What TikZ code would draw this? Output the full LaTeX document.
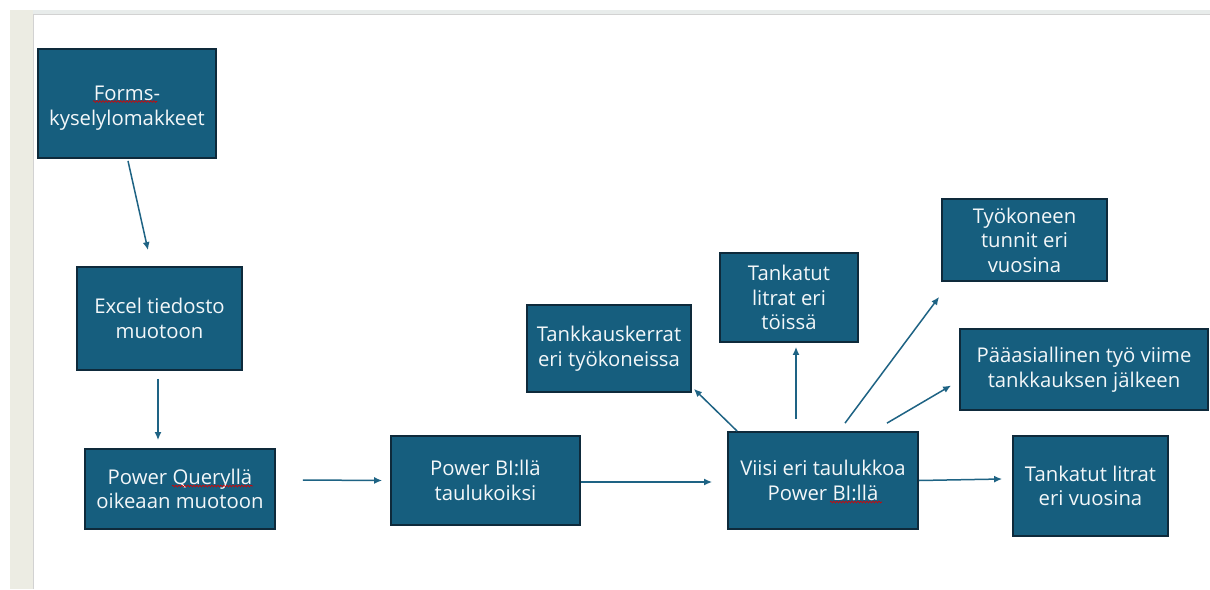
\documentclass[tikz,border=0pt]{standalone}
\usepackage{fontspec}
\setmainfont{Open Sans}
\usetikzlibrary{arrows.meta,decorations.pathmorphing}

\definecolor{boxblue}{HTML}{165E7E}
\definecolor{boxline}{HTML}{0E2A3B}
\definecolor{arrowblue}{HTML}{1E6384}
\definecolor{sidebar}{HTML}{ECECE3}
\definecolor{topbar}{HTML}{E8ECEB}
\definecolor{frameline}{HTML}{D2D2D2}

\begin{document}
\begin{tikzpicture}[
  x=1pt, y=-1pt,
  box/.style={draw=boxline, line width=1.8pt, fill=boxblue, text=white!95!boxblue,
    align=center, inner sep=0pt, font=\fontsize{20.3}{24.5}\selectfont},
  arr/.style={draw=arrowblue, line width=1.5pt, -{Latex[length=8pt,width=7pt]}},
  spell/.style={draw=red!85!black, line width=0.6pt, decorate,
    decoration={snake, amplitude=0.9pt, segment length=3pt}}
]

% page frame
\useasboundingbox (0,0) rectangle (1210,589);
\fill[white] (0,0) rectangle (1210,589);
\fill[sidebar] (10,10) rectangle (33,589);
\fill[topbar] (33,10) rectangle (1210,14);
\draw[frameline, line width=1pt] (33.5,589) -- (33.5,14.5) -- (1210,14.5);

% ======================================================
% =============== LEFT CHAIN ===========================
% ======================================================
\node (forms) [box, minimum width=178, minimum height=109] at (127,103.5)
  {\rule{0pt}{24pt}Forms-\\kyselylomakkeet};
\node (excel) [box, minimum width=165, minimum height=103] at (159.5,318.5)
  {Excel tiedosto\\muotoon};
\node (pq) [box, minimum width=190, minimum height=80] at (180,489)
  {Power Queryllä\\oikeaan muotoon};
\node (pbi) [box, minimum width=189, minimum height=89] at (485.5,480.5)
  {Power BI:llä\\taulukoiksi};

% ======================================================
% =============== FIVE TABLES ==========================
% ======================================================
\node (viisi) [box, minimum width=190, minimum height=97] at (823,480.5)
  {Viisi eri taulukkoa\\Power BI:llä};
\node (kerrat) [box, minimum width=164, minimum height=87] at (609,348.5)
  {Tankkauskerrat\\eri työkoneissa};
\node (toissa) [box, minimum width=138, minimum height=89] at (789,297.5)
  {Tankatut\\litrat eri\\töissä};
\node (tunnit) [box, minimum width=165, minimum height=82] at (1024.5,240)
  {Työkoneen\\tunnit eri\\vuosina};
\node (paatyo) [box, minimum width=248, minimum height=81] at (1084,369.5)
  {Pääasiallinen työ viime\\tankkauksen jälkeen};
\node (vuosina) [box, minimum width=155, minimum height=100] at (1090.5,486)
  {Tankatut litrat\\eri vuosina};

% spell-check waves
\draw[spell] ([xshift=-34pt,yshift=2pt]forms.center) -- ++(64,0);
\draw[spell] ([xshift=-8pt,yshift=3pt]pq.center) -- ++(81,0);
\draw[spell] ([xshift=7pt,yshift=-21.5pt]viisi.center) -- ++(52,0);

% arrows
\draw[arr] ([xshift=1pt,yshift=-2pt]forms.south) -- ([xshift=-11.5pt,yshift=16pt]excel.north);
\draw[arr] ([xshift=-1.5pt,yshift=-8pt]excel.south) -- ([xshift=-22pt,yshift=8pt]pq.north);
\draw[arr] ([xshift=27pt,yshift=9pt]pq.east) -- ([xshift=-8pt]pbi.west);
\draw[arr] ([yshift=-1.5pt]pbi.east) -- ([xshift=-15pt,yshift=-1.5pt]viisi.west);
\draw[arr] ([xshift=10pt]viisi.north west) -- ([xshift=2pt,yshift=4pt]kerrat.south east);
\draw[arr] ([xshift=-27pt,yshift=12pt]viisi.north) -- ([xshift=7pt,yshift=-4pt]toissa.south);
\draw[arr] ([xshift=22pt,yshift=8pt]viisi.north) -- ([xshift=-2pt,yshift=-15pt]tunnit.south west);
\draw[arr] ([xshift=64pt,yshift=8pt]viisi.north) -- ([xshift=-8pt,yshift=-16pt]paatyo.west);
\draw[arr] (viisi.east) -- ([xshift=-10pt,yshift=7pt]vuosina.west);

\end{tikzpicture}
\end{document}
